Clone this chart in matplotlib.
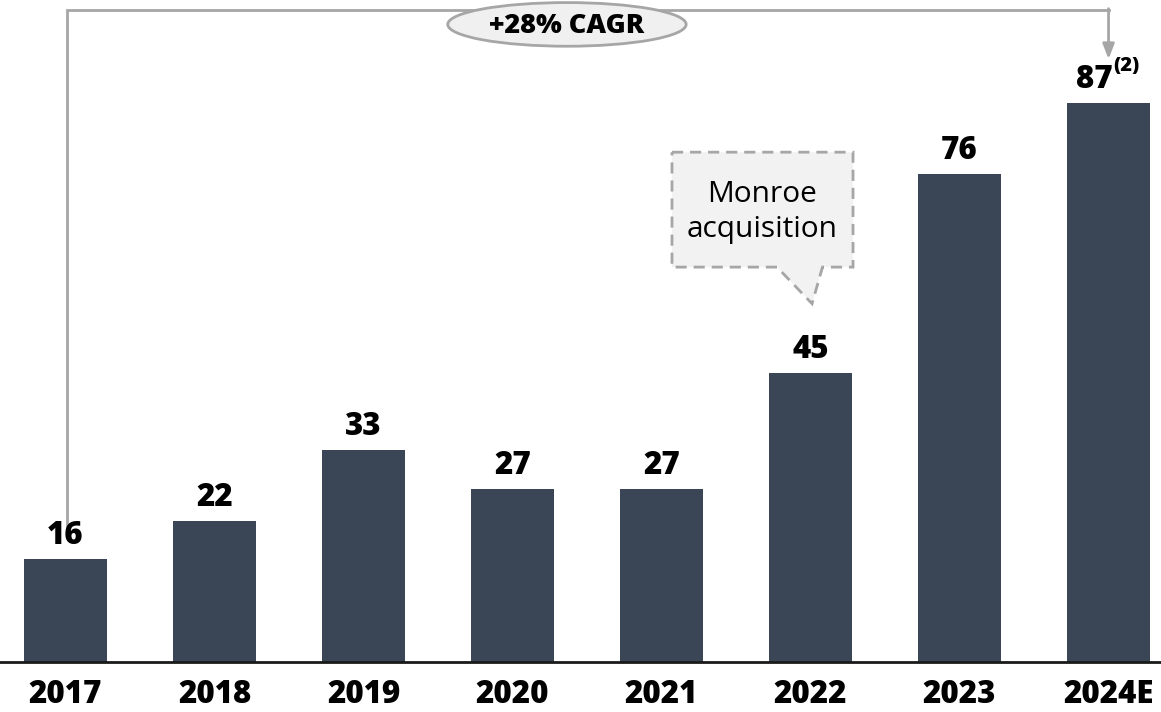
import matplotlib.pyplot as plt
from matplotlib.patches import Ellipse, Polygon

plt.rcParams['font.family'] = ['Open Sans', 'DejaVu Sans']

years = ['2017', '2018', '2019', '2020', '2021', '2022', '2023', '2024E']
values = [16, 22, 33, 27, 27, 45, 76, 87]
value_labels = ['16', '22', '33', '27', '27', '45', '76', '87']
cagr_text = '+28% CAGR'
callout_text = 'Monroe\nacquisition'

bar_color = '#3a4556'
line_gray = '#a6a6a6'
wt = 'heavy'

fig = plt.figure(figsize=(11.61, 7.12), dpi=100)
ax = fig.add_axes([0, 50 / 712, 1, 662 / 712])

x = list(range(len(years)))
ax.bar(x, values, width=0.557, color=bar_color, zorder=2)
ax.set_xlim(-0.44, 7.352)
ax.set_ylim(0, 103.1)

for i, (v, lab) in enumerate(zip(values, value_labels)):
    if i == len(values) - 1:
        ax.annotate(lab, (i + 0.03, v), xytext=(0, 5), textcoords='offset points',
                    ha='right', va='bottom', fontsize=22.5, fontweight=wt)
        ax.annotate('(2)', (i + 0.03, v), xytext=(0, 20), textcoords='offset points',
                    ha='left', va='bottom', fontsize=14.5, fontweight=wt)
    else:
        ax.annotate(lab, (i, v), xytext=(0, 5), textcoords='offset points',
                    ha='center', va='bottom', fontsize=22.5, fontweight=wt)

# axis line and year labels
for s in ['top', 'right', 'left']:
    ax.spines[s].set_visible(False)
ax.spines['bottom'].set_linewidth(2)
ax.spines['bottom'].set_color('#1a1a1a')
ax.set_yticks([])
ax.set_xticks(x)
ax.set_xticklabels(years, fontsize=22.5, fontweight=wt)
ax.tick_params(axis='x', length=0, pad=12)

# CAGR bracket
y_top = 101.6
ax.plot([0.01, 0.01, 7.0], [19.8, y_top, y_top], color=line_gray, lw=2, zorder=1,
        solid_joinstyle='miter')
ax.annotate('', xy=(7.0, 93.9), xytext=(7.0, y_top + 0.15),
            arrowprops=dict(arrowstyle='-|>,head_length=0.9,head_width=0.35',
                            color=line_gray, lw=2, shrinkA=0, shrinkB=0))
ell = Ellipse((3.365, 99.3), 1.6, 6.8, facecolor='#f0f0f0', edgecolor=line_gray,
              lw=2, zorder=3, clip_on=False)
ax.add_patch(ell)
ax.text(3.365, 99.1, cagr_text, ha='center', va='center', fontsize=19.5,
        fontweight=wt, zorder=4)

# callout box
box = [(4.07, 79.4), (5.285, 79.4), (5.285, 61.5), (5.08, 61.5), (5.01, 55.8),
       (4.775, 61.5), (4.07, 61.5)]
ax.add_patch(Polygon(box, closed=True, facecolor='#f2f2f2', edgecolor='#a6a6a6',
                     lw=2, linestyle=(0, (4, 2.5)), zorder=3))
ax.text(4.677, 70.1, callout_text, ha='center', va='center', fontsize=21.5,
        linespacing=1.3, zorder=4)

fig.savefig('out.png', dpi=100)
